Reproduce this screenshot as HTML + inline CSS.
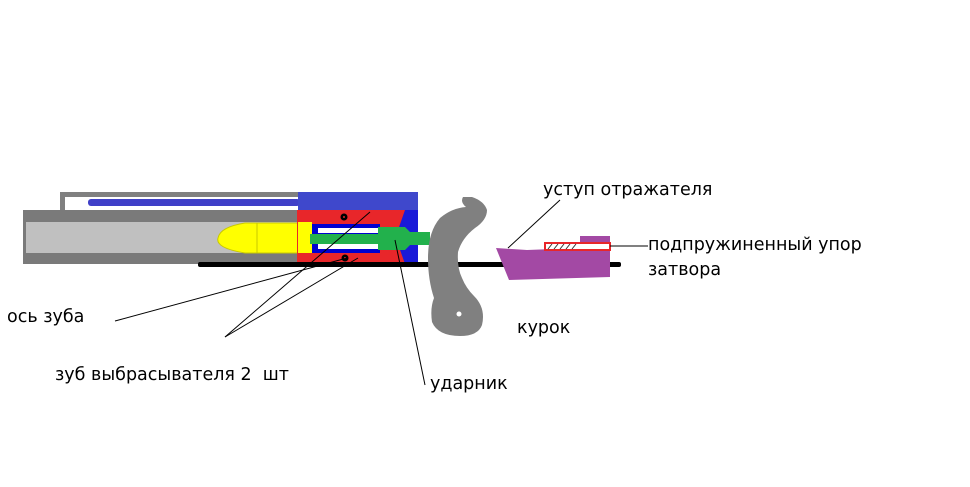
<!DOCTYPE html>
<html><head><meta charset="utf-8"><style>
body{margin:0;background:#fff;width:970px;height:482px;overflow:hidden}
text{font-family:"DejaVu Sans","Liberation Sans",sans-serif;font-size:17.5px;fill:#000}
</style></head><body>
<svg width="970" height="482" viewBox="0 0 970 482" xmlns="http://www.w3.org/2000/svg">
<rect x="60" y="192" width="240" height="5" fill="#808080"/>
<rect x="60" y="192" width="5" height="18" fill="#808080"/>
<rect x="66" y="198" width="4" height="14" fill="#fff"/>
<rect x="23" y="210" width="276" height="54" fill="#7a7a7a"/>
<rect x="26" y="222" width="272" height="31" fill="#c0c0c0"/>
<rect x="88" y="199" width="212" height="7" rx="3" fill="#4040c8"/>
<rect x="298" y="192" width="120" height="18" fill="#3f48cc"/>
<path d="M245 223 L298 223 L298 253 L245 253 Q215 248 218 238 Q220 227 245 223Z" fill="#ffff00" stroke="#c8c800"/>
<line x1="257" y1="223" x2="257" y2="253" stroke="#c8c800"/>
<rect x="297" y="210" width="108" height="54" fill="#e8262a"/>
<rect x="398" y="210" width="20" height="54" fill="#1a1ad8"/>
<polygon points="393,210 405,210 398,230 393,224" fill="#e8262a"/>
<polygon points="393,264 405,264 398,244 393,250" fill="#e8262a"/>
<rect x="310" y="224" width="70" height="29" fill="#0000d0"/>
<rect x="298" y="222" width="14" height="31" fill="#ffff00"/>
<rect x="318" y="228" width="60" height="5" fill="#fff"/>
<rect x="318" y="244" width="60" height="5" fill="#fff"/>
<rect x="310" y="234" width="80" height="10" fill="#22b14c"/>
<polygon points="378,227 405,227 410,232 430,232 430,245 410,245 405,250 378,250" fill="#22b14c"/>
<circle cx="344" cy="217" r="3.5" fill="#000"/><circle cx="344" cy="217" r="1" fill="#e8262a"/>
<circle cx="345" cy="258" r="3.5" fill="#000"/><circle cx="345" cy="258" r="1" fill="#e8262a"/>
<rect x="198" y="262" width="423" height="5" rx="2" fill="#000"/>
<path d="M463 197 L472 197 Q484 201 487 210 Q487 220 475 228 Q462 238 458 252 Q457 268 462 278 Q466 288 474 296 Q486 308 482 325 Q478 336 460 336 Q438 336 432 322 Q430 308 434 298 Q428 280 428 258 Q428 232 440 218 Q452 208 466 207 Q460 202 463 197Z" fill="#808080"/>
<circle cx="459" cy="314" r="2.5" fill="#fff"/>
<polygon points="496,248 527,250 580,248 580,236 610,236 610,277 509,280" fill="#a349a4"/>
<rect x="545" y="243" width="65" height="7" fill="#fff" stroke="#e8262a" stroke-width="2"/>
<path d="M548 249 l4 -5 m2 5 l4 -5 m2 5 l4 -5 m2 5 l4 -5 m2 5 l4 -5" stroke="#333" stroke-width="1"/>
<g stroke="#000" stroke-width="1" fill="none">
<line x1="115" y1="321" x2="347" y2="258"/>
<line x1="225" y1="337" x2="370" y2="212"/>
<line x1="225" y1="337" x2="358" y2="258"/>
<line x1="395" y1="240" x2="425" y2="385"/>
<line x1="508" y1="248" x2="560" y2="200"/>
<line x1="610" y1="246" x2="648" y2="246"/>
</g>
<text x="7" y="322">ось зуба</text>
<text x="55" y="380">зуб выбрасывателя 2&#160;&#160;шт</text>
<text x="430" y="389">ударник</text>
<text x="517" y="333">курок</text>
<text x="543" y="195">уступ отражателя</text>
<text x="648" y="250">подпружиненный упор</text>
<text x="648" y="275">затвора</text>
</svg>
</body></html>
